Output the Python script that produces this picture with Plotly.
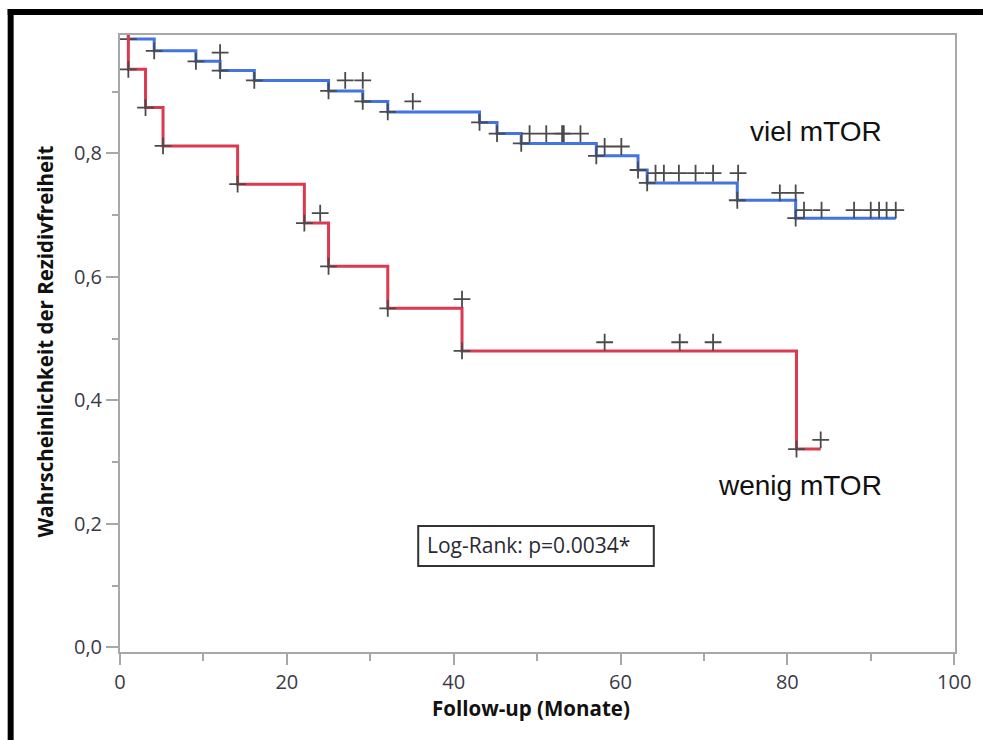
import plotly.graph_objects as go

# ---- data ----
viel_times = [0, 1.0, 4.1, 9.1, 12.0, 16.1, 25.0, 29.1, 32.1, 43.1, 45.2, 48.1, 57.1, 62.1, 63.2, 74.0, 81.0, 93.0]
viel_surv = [1.0, 0.985, 0.966, 0.949, 0.934, 0.918, 0.901, 0.884, 0.867, 0.850, 0.832, 0.816, 0.796, 0.773, 0.752, 0.724, 0.695, 0.695]
viel_cens_t = [12.0, 27.0, 29.1, 35.1, 49.1, 51.1, 53.0, 53.2, 55.2, 58.1, 60.1, 64.2, 65.2, 67.0, 69.0, 71.1, 74.1,
               79.1, 81.0, 82.0, 84.1, 88.0, 90.0, 91.0, 91.9, 93.0]
viel_cens_s = [0.963, 0.918, 0.918, 0.884, 0.832, 0.832, 0.832, 0.832, 0.832, 0.811, 0.811, 0.768, 0.768, 0.768, 0.768, 0.768, 0.768,
               0.736, 0.736, 0.708, 0.708, 0.708, 0.708, 0.708, 0.708, 0.708]

wenig_times = [0, 1.0, 3.06, 5.16, 14.1, 22.1, 25.0, 32.1, 41.0, 81.1, 84.0]
wenig_surv = [1.0, 0.936, 0.874, 0.812, 0.750, 0.687, 0.617, 0.549, 0.480, 0.321, 0.321]
wenig_cens_t = [24.0, 41.0, 58.1, 67.1, 71.1, 84.0]
wenig_cens_s = [0.703, 0.564, 0.494, 0.494, 0.494, 0.336]

group_labels = ["viel mTOR", "wenig mTOR"]
logrank_text = "Log-Rank: p=0.0034*"
x_title = "Follow-up (Monate)"
y_title = "Wahrscheinlichkeit der Rezidivfreiheit"
x_ticks = [0, 20, 40, 60, 80, 100]
y_ticks = [0.0, 0.2, 0.4, 0.6, 0.8]

BLUE = "#4274e2"
RED = "#dc3a50"
MARK = "#4a4a4a"

fig = go.Figure()

def add_group(times, surv, ct, cs, color):
    fig.add_trace(go.Scatter(x=times, y=surv, mode="lines", line=dict(color=color, width=3, shape="hv"),
                             hoverinfo="skip", showlegend=False))
    # step markers at each drop
    fig.add_trace(go.Scatter(x=times[1:-1], y=surv[1:-1], mode="markers",
                             marker=dict(symbol="cross-thin", size=12, line=dict(color=MARK, width=1.8)),
                             showlegend=False))
    fig.add_trace(go.Scatter(x=ct, y=cs, mode="markers",
                             marker=dict(symbol="cross-thin", size=12, line=dict(color=MARK, width=1.8)),
                             showlegend=False))

add_group(viel_times, viel_surv, viel_cens_t, viel_cens_s, BLUE)
add_group(wenig_times, wenig_surv, wenig_cens_t, wenig_cens_s, RED)

L, R, T, B = 120, 23, 35, 88
W, H = 983, 740
pw, ph = W - L - R, H - T - B

def px_x(p):
    return (p - L) / pw

def px_y(p):
    return (H - B - p) / ph

TICKFONT = dict(family="Open Sans, Noto Sans, sans-serif", size=20, color="#3a3a48")
AXCOL = "#a8a8a8"

fig.update_layout(
    width=W, height=H,
    margin=dict(l=L, r=R, t=T, b=B, pad=0),
    paper_bgcolor="white", plot_bgcolor="white",
    separators=",.",
    xaxis=dict(range=[0, 100.1], tickvals=x_ticks, ticks="outside", ticklen=11, tickwidth=1.5, tickcolor=AXCOL,
               showline=True, linecolor=AXCOL, linewidth=2, mirror=True, showgrid=False, zeroline=False,
               tickfont=TICKFONT,
               minor=dict(dtick=10, tick0=0, ticks="outside", ticklen=7, tickwidth=1.5, tickcolor=AXCOL, showgrid=False)),
    yaxis=dict(range=[-0.0076, 0.9916], tickvals=y_ticks, tickformat=".1f", ticks="outside", ticklen=12, tickwidth=1.5,
               tickcolor=AXCOL, showline=True, linecolor=AXCOL, linewidth=2, mirror=True, showgrid=False,
               zeroline=False, tickfont=TICKFONT,
               minor=dict(dtick=0.1, tick0=0, ticks="outside", ticklen=6, tickwidth=1.5, tickcolor=AXCOL, showgrid=False)),
)

# group labels
LABFONT = dict(family="Liberation Sans, Arial, sans-serif", size=28, color="#111111")
fig.add_annotation(x=83.4, y=0.8356, xref="x", yref="y", text=group_labels[0], showarrow=False,
                   xanchor="center", yanchor="middle", font=LABFONT)
fig.add_annotation(x=81.5, y=0.2614, xref="x", yref="y", text=group_labels[1], showarrow=False,
                   xanchor="center", yanchor="middle", font=LABFONT)

# log-rank box
fig.add_shape(type="rect", xref="paper", yref="paper", x0=px_x(420), x1=px_x(657), y0=px_y(566), y1=px_y(526),
              line=dict(color="#333333", width=2), fillcolor="rgba(0,0,0,0)")
fig.add_annotation(x=px_x(427), y=px_y(545), xref="paper", yref="paper", text=logrank_text, showarrow=False,
                   xanchor="left", yanchor="middle",
                   font=dict(family="Open Sans, Noto Sans, sans-serif", size=21, color="#2a2a35"))

# axis titles
TITLEFONT = dict(family="Open Sans, Noto Sans, sans-serif", size=20.5, color="#111111", weight="bold")
fig.add_annotation(x=px_x(533), y=px_y(708), xref="paper", yref="paper", text=x_title, showarrow=False,
                   xanchor="center", yanchor="middle", font=TITLEFONT)
fig.add_annotation(x=px_x(45), y=px_y(341), xref="paper", yref="paper", text=y_title, showarrow=False,
                   xanchor="center", yanchor="middle", textangle=-90, font=TITLEFONT)

# black frame of the picture (top and left)
fig.add_shape(type="rect", xref="paper", yref="paper", x0=px_x(7), x1=px_x(995), y0=px_y(15), y1=px_y(9),
              line=dict(width=0), fillcolor="black", layer="above")
fig.add_shape(type="rect", xref="paper", yref="paper", x0=px_x(7), x1=px_x(13), y0=px_y(760), y1=px_y(9),
              line=dict(width=0), fillcolor="black", layer="above")

fig.write_html("out.html")
